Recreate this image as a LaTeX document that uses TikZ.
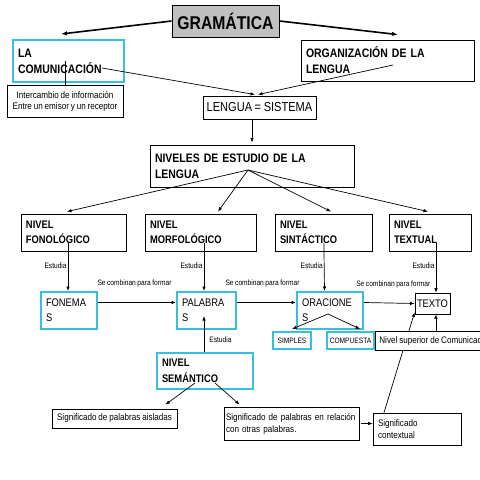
\documentclass[tikz,border=0pt]{standalone}
\usepackage{fontspec}
\setmainfont[FakeStretch=0.85,WordSpace=0.85]{Liberation Sans}
\usetikzlibrary{arrows.meta}
\definecolor{celeste}{RGB}{56,190,222}
\definecolor{gris}{RGB}{192,192,192}
\tikzset{
  caja/.style={draw=black,fill=white,line width=0.8pt,inner xsep=5pt,inner ysep=0pt,align=left},
  cajazul/.style={caja,draw=celeste,line width=2pt},
  flecha/.style={-{Latex[length=4.5pt,width=3.5pt]},line width=0.7pt},
  ftitulo/.style={font=\fontsize{12.3}{16}\selectfont\bfseries},
  fnivel/.style={font=\fontsize{11}{15.5}\selectfont\bfseries},
  fplano/.style={font=\fontsize{11}{15}\selectfont},
  fchica/.style={font=\fontsize{9.5}{12}\selectfont},
  fmini/.style={font=\fontsize{7.8}{9}\selectfont,inner sep=1pt},
}

\begin{document}
\begin{tikzpicture}[x=1pt,y=-1pt]
  \path[use as bounding box,clip] (0,0) rectangle (480,480);
  % parte de arriba
  \node[caja,fill=gris,font=\fontsize{18.5}{20}\selectfont\bfseries,minimum width=107pt,minimum height=32pt,inner xsep=0pt,align=center] (gram) at (225.5,21) {GRAMÁTICA};
  \node[cajazul,ftitulo,text width=101pt,minimum height=42pt] (comun) at (68.5,61) {LA\\COMUNICACIÓN};
  \node[caja,fchica,align=center,minimum width=116pt,minimum height=32pt,inner xsep=2pt,font=\fontsize{9.5}{11}\selectfont] (inter) at (65,101) {Intercambio de información\\Entre un emisor y un receptor};
  \node[caja,ftitulo,text width=163pt,minimum height=41pt] (organiz) at (387.5,60.5) {ORGANIZACIÓN DE LA\\LENGUA};
  \node[caja,font=\fontsize{13}{15}\selectfont,minimum width=113pt,minimum height=23pt,inner xsep=2pt,align=center] (lengua) at (259.5,107.5) {LENGUA = SISTEMA};
  \node[caja,ftitulo,text width=194pt,minimum height=42pt] (niveles) at (252,166) {NIVELES DE ESTUDIO DE LA\\LENGUA};
  \draw[-{Latex[length=6pt,width=4.5pt]},line width=1.6pt] (gram.west) -- ([xshift=-7.5pt,yshift=5pt]comun.north);
  \draw[-{Latex[length=6pt,width=4.5pt]},line width=1.6pt] (gram.east) -- ([xshift=10.5pt,yshift=5pt]organiz.north);
  \draw (inter.north) -- (inter.north |- comun.center);
  \draw[flecha] ([xshift=33.5pt,yshift=-7pt]comun.center) -- ([xshift=-4.5pt,yshift=1pt]lengua.north);
  \draw[flecha] ([xshift=5.5pt,yshift=-4.5pt]organiz.center) -- ([xshift=-1.5pt,yshift=1pt]lengua.north);
  \draw[flecha] (lengua.south -| niveles.north) -- ([yshift=2pt]niveles.north);
  % niveles
  \foreach \n/\x/\tw/\t/\dx in {fono/73.5/95/FONOLÓGICO/-6.5, morfo/200.5/101/MORFOLÓGICO/17.5,
                               sint/323.5/87/SINTÁCTICO/7.5, textual/430/72/TEXTUAL/-2}{
    \node[caja,fnivel,text width=\tw pt,minimum height=37pt] (\n) at (\x,232.5) {NIVEL\\\t};
    \draw[flecha] ([xshift=-4pt,yshift=-4pt]niveles.center) -- ([xshift=\dx pt,yshift=2pt]\n.north);
  }
  \node[cajazul,fplano,text width=46pt,minimum height=37pt] (fonemas) at (69,310.5) {FONEMA\\S};
  \node[cajazul,fplano,text width=49pt,minimum height=37pt] (palabras) at (206.5,310.5) {PALABRA\\S};
  \node[cajazul,fplano,text width=56pt,minimum height=37pt] (oraciones) at (330,310.5) {ORACIONE\\S};
  \node[caja,fplano,align=center,minimum width=31pt,minimum height=21pt,inner xsep=2pt] (texto) at (432.5,303.5) {TEXTO};
  \foreach \a/\da/\b/\db in {fono/-5.5/fonemas/-1, morfo/3.5/palabras/-2.5, sint/0.5/oraciones/-5.5, textual/6/texto/3.5}
    \draw[flecha,shorten <=-8pt] ([xshift=\da pt]\a.south) -- ([xshift=\db pt]\b.north) node[pos=0.35,left,fmini] {Estudia};
  \foreach \a/\b/\dy/\dx in {fonemas/palabras/8/-2.5, palabras/oraciones/8/-4, oraciones/texto/0/4}
    \draw[flecha] ([yshift=8pt]\a.east) -- ([yshift=\dy pt]\b.west) node[midway,above=14pt,xshift=\dx pt,fmini] {Se combinan para formar};
  \node[cajazul,fmini,minimum width=38pt,minimum height=17pt,align=center] (simples) at (292,340.5) {SIMPLES};
  \node[cajazul,fmini,minimum width=47pt,minimum height=17pt] (compuestas) at (350.5,340.5) {COMPUESTA};
  \draw[flecha] ([xshift=-2pt,yshift=-3.5pt]oraciones.center) -- ([yshift=2pt]simples.north);
  \draw[flecha] ([xshift=-2pt,yshift=-3.5pt]oraciones.center) -- ([xshift=9.5pt,yshift=2pt]compuestas.north);
  % semantico
  \node[cajazul,fnivel,text width=86pt,minimum height=36pt] (seman) at (205,371) {NIVEL\\SEMÁNTICO};
  \draw[flecha] ([xshift=-1pt]seman.north) -- ([xshift=-2.5pt,yshift=14pt]palabras.south) node[pos=0.34,right=4pt,fmini] {Estudia};
  \node[caja,fchica,minimum width=125pt,minimum height=19pt] (aisladas) at (114.5,418.5) {Significado de palabras aisladas};
  \node[caja,fchica,text width=131pt,inner xsep=2pt,minimum height=33pt] (relacion) at (291.5,423.5) {Significado de palabras en relación\\con otras palabras.};
  \node[caja,fchica,text width=78pt,minimum height=32pt] (contexto) at (417,429) {Significado\\contextual};
  \draw[flecha] ([xshift=-10pt,yshift=-12pt]seman.center) -- ([xshift=-12pt,yshift=4pt]aisladas.north east);
  \draw[flecha] ([xshift=10pt,yshift=-12pt]seman.center) -- ([xshift=16pt,yshift=2pt]relacion.north west);
  \draw[flecha] ([xshift=2pt]relacion.east) -- (relacion.east -| contexto.west);
  \draw[flecha] ([xshift=-33pt]contexto.north) -- ([yshift=2pt]texto.south west);
  \node[caja,fchica,anchor=west,minimum height=19pt,inner xsep=4pt] (superior) at (375,340.5) {Nivel superior de Comunicación};
  \draw[flecha] (superior.north) -- (superior.north |- texto.south);
\end{tikzpicture}
\end{document}
